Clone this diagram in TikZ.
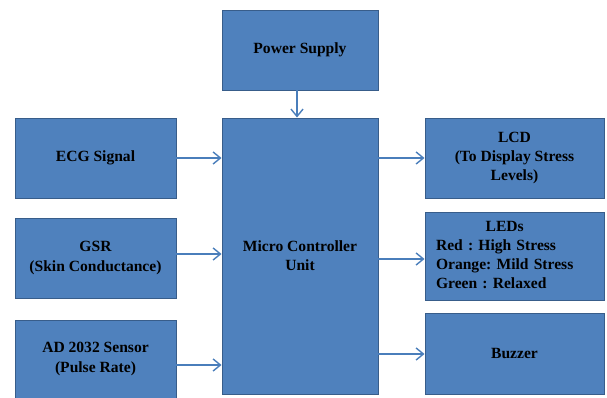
\documentclass[tikz,border=0pt]{standalone}
\usepackage{fontspec}
\setmainfont{Liberation Serif}
\usepackage{tikz}
\usetikzlibrary{positioning,calc,arrows.meta}
\definecolor{BlockBlue}{RGB}{79,129,189}
\definecolor{BlockEdge}{RGB}{56,93,138}
\definecolor{FlowBlue}{RGB}{74,126,187}
\frenchspacing
\tikzset{
    block/.style={rectangle, draw=BlockEdge, fill=BlockBlue, line width=0.8pt, inner sep=2pt,
        font=\bfseries\fontsize{13.3}{16.3}\selectfont, text=black, align=center},
    flow/.style={draw=FlowBlue, line width=1.2pt, -{Straight Barb[length=2.2mm,width=3.6mm]}}
}

\begin{document}
\begin{tikzpicture}[x=0.03cm, y=-0.03cm]
    % --- KHUNG ---
    \useasboundingbox (0,0) rectangle (607,398);

    % --- KHỐI ---
    % Nguồn và vi điều khiển
    \node[block, minimum width=156*0.03cm, minimum height=80*0.03cm] (power) at (300,50) {Power Supply};
    \node[block, minimum width=156*0.03cm, minimum height=276*0.03cm] (mcu) at (300,256) {Micro Controller\\Unit};
    % Đầu vào
    \node[block, minimum width=161*0.03cm, minimum height=80*0.03cm] (ecg) at (95.5,158) {ECG Signal};
    \node[block, minimum width=161*0.03cm, minimum height=80*0.03cm] (gsr) at (95.5,258) {GSR\\(Skin Conductance)};
    \node[block, minimum width=161*0.03cm, minimum height=78*0.03cm] (sensor) at (95.5,359) {AD 2032 Sensor\\(Pulse Rate)};
    % Đầu ra
    \node[block, minimum width=179*0.03cm, minimum height=80*0.03cm] (lcd) at (514.5,158) {LCD\\(To Display Stress\\Levels)};
    \node[block, minimum width=179*0.03cm, minimum height=88*0.03cm, text width=157*0.03cm, align=left] (leds) at (514.5,256)
        {\frenchspacing\begin{tabular}{@{}l@{}}\multicolumn{1}{@{}c@{}}{LEDs}\\Red : High Stress\\Orange: Mild Stress\\Green : Relaxed\end{tabular}};
    \node[block, minimum width=179*0.03cm, minimum height=81*0.03cm] (buzzer) at (514.5,353.5) {Buzzer};

    % --- MŨI TÊN ---
    \draw[flow] (power.south -| 297,0) -- (mcu.north -| 297,0);
    \draw[flow] (ecg.east) -- (ecg.east -| mcu.west);
    \draw[flow] ($(gsr.east)+(0,-4)$) -- ($(gsr.east -| mcu.west)+(0,-4)$);
    \draw[flow] ($(sensor.east)+(0,6)$) -- ($(sensor.east -| mcu.west)+(0,6)$);
    \draw[flow] (mcu.east |- lcd.west) -- (lcd.west);
    \draw[flow] ($(mcu.east |- leds.west)+(0,3)$) -- ($(leds.west)+(0,3)$);
    \draw[flow] ($(mcu.east |- buzzer.west)+(0,0.5)$) -- ($(buzzer.west)+(0,0.5)$);
\end{tikzpicture}
\end{document}
